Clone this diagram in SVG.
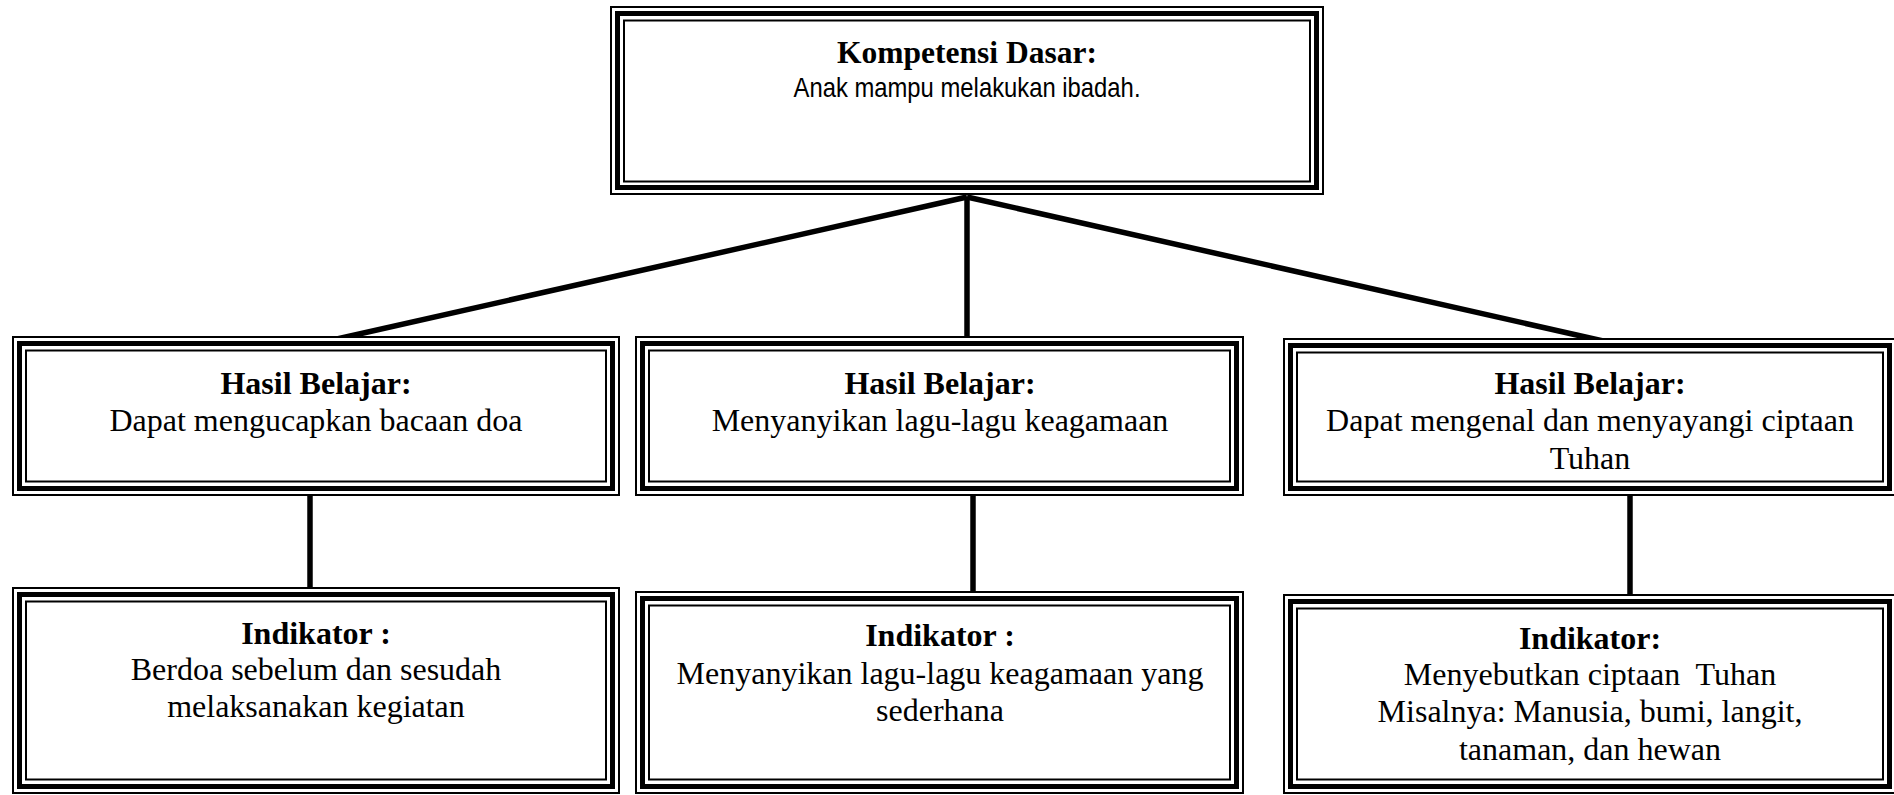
<svg xmlns="http://www.w3.org/2000/svg" width="1894" height="795" viewBox="0 0 1894 795">
<style>
.o{fill:none;stroke:#000;stroke-width:2}
.m{fill:none;stroke:#000;stroke-width:5}
.i{fill:none;stroke:#000;stroke-width:2}
.bg{fill:#fff}
.h{font-family:"Liberation Serif","Times New Roman",serif;font-weight:bold;font-size:32px;text-anchor:middle;fill:#000}
.t{font-family:"Liberation Serif","Times New Roman",serif;font-size:32px;text-anchor:middle;fill:#000;white-space:pre}
.s{font-family:"Liberation Sans Narrow","Liberation Sans",Arial,sans-serif;font-size:28px;text-anchor:middle;fill:#000}
.c{stroke:#000;stroke-width:5.5;fill:none}
</style>
<rect x="0" y="0" width="1894" height="795" fill="#fff"/>
<g id="connectors">
<line class="c" x1="967" y1="197" x2="328" y2="341"/>
<line class="c" x1="967" y1="197" x2="967" y2="341"/>
<line class="c" x1="967" y1="197" x2="1612" y2="343"/>
<line class="c" x1="310" y1="495" x2="310" y2="588"/>
<line class="c" x1="973" y1="495" x2="973" y2="592"/>
<line class="c" x1="1630" y1="495" x2="1630" y2="595"/>
</g>
<g id="kompetensi">
<rect class="bg" x="611" y="7" width="712" height="187"/>
<rect class="o" x="611" y="7" width="712" height="187"/>
<rect class="m" x="617.5" y="13.5" width="699" height="174"/>
<rect class="i" x="624" y="20.5" width="686" height="161"/>
<text class="h" x="967" y="63" style="font-size:31.5px">Kompetensi Dasar:</text>
<text class="s" x="967" y="97" textLength="347" lengthAdjust="spacingAndGlyphs">Anak mampu melakukan ibadah.</text>
</g>
<g id="hasil1">
<rect class="bg" x="13" y="337" width="606" height="158"/>
<rect class="o" x="13" y="337" width="606" height="158"/>
<rect class="m" x="19.5" y="343.5" width="593" height="145"/>
<rect class="i" x="26" y="350.5" width="580" height="131"/>
<text class="h" x="316" y="394">Hasil Belajar:</text>
<text class="t" x="316" y="431">Dapat mengucapkan bacaan doa</text>
</g>
<g id="hasil2">
<rect class="bg" x="636" y="337" width="607" height="158"/>
<rect class="o" x="636" y="337" width="607" height="158"/>
<rect class="m" x="642.5" y="343.5" width="594" height="145"/>
<rect class="i" x="649" y="350.5" width="581" height="131"/>
<text class="h" x="940" y="394">Hasil Belajar:</text>
<text class="t" x="940" y="431">Menyanyikan lagu-lagu keagamaan</text>
</g>
<g id="hasil3">
<rect class="bg" x="1284" y="339" width="612" height="156"/>
<rect class="o" x="1284" y="339" width="612" height="156"/>
<rect class="m" x="1290.5" y="345.5" width="599" height="143"/>
<rect class="i" x="1297" y="352.5" width="586" height="129"/>
<text class="h" x="1590" y="394">Hasil Belajar:</text>
<text class="t" x="1590" y="431">Dapat mengenal dan menyayangi ciptaan</text>
<text class="t" x="1590" y="469">Tuhan</text>
</g>
<g id="indikator1">
<rect class="bg" x="13" y="588" width="606" height="205"/>
<rect class="o" x="13" y="588" width="606" height="205"/>
<rect class="m" x="19.5" y="594.5" width="593" height="192"/>
<rect class="i" x="26" y="601.5" width="580" height="178"/>
<text class="h" x="316" y="644">Indikator :</text>
<text class="t" x="316" y="680">Berdoa sebelum dan sesudah</text>
<text class="t" x="316" y="717">melaksanakan kegiatan</text>
</g>
<g id="indikator2">
<rect class="bg" x="636" y="592" width="607" height="201"/>
<rect class="o" x="636" y="592" width="607" height="201"/>
<rect class="m" x="642.5" y="598.5" width="594" height="188"/>
<rect class="i" x="649" y="605.5" width="581" height="174"/>
<text class="h" x="940" y="646">Indikator :</text>
<text class="t" x="940" y="684">Menyanyikan lagu-lagu keagamaan yang</text>
<text class="t" x="940" y="721">sederhana</text>
</g>
<g id="indikator3">
<rect class="bg" x="1284" y="595" width="612" height="198"/>
<rect class="o" x="1284" y="595" width="612" height="198"/>
<rect class="m" x="1290.5" y="601.5" width="599" height="185"/>
<rect class="i" x="1297" y="608.5" width="586" height="171"/>
<text class="h" x="1590" y="649">Indikator:</text>
<text class="t" x="1590" y="685">Menyebutkan ciptaan  Tuhan</text>
<text class="t" x="1590" y="722">Misalnya: Manusia, bumi, langit,</text>
<text class="t" x="1590" y="760">tanaman, dan hewan</text>
</g>
</svg>
